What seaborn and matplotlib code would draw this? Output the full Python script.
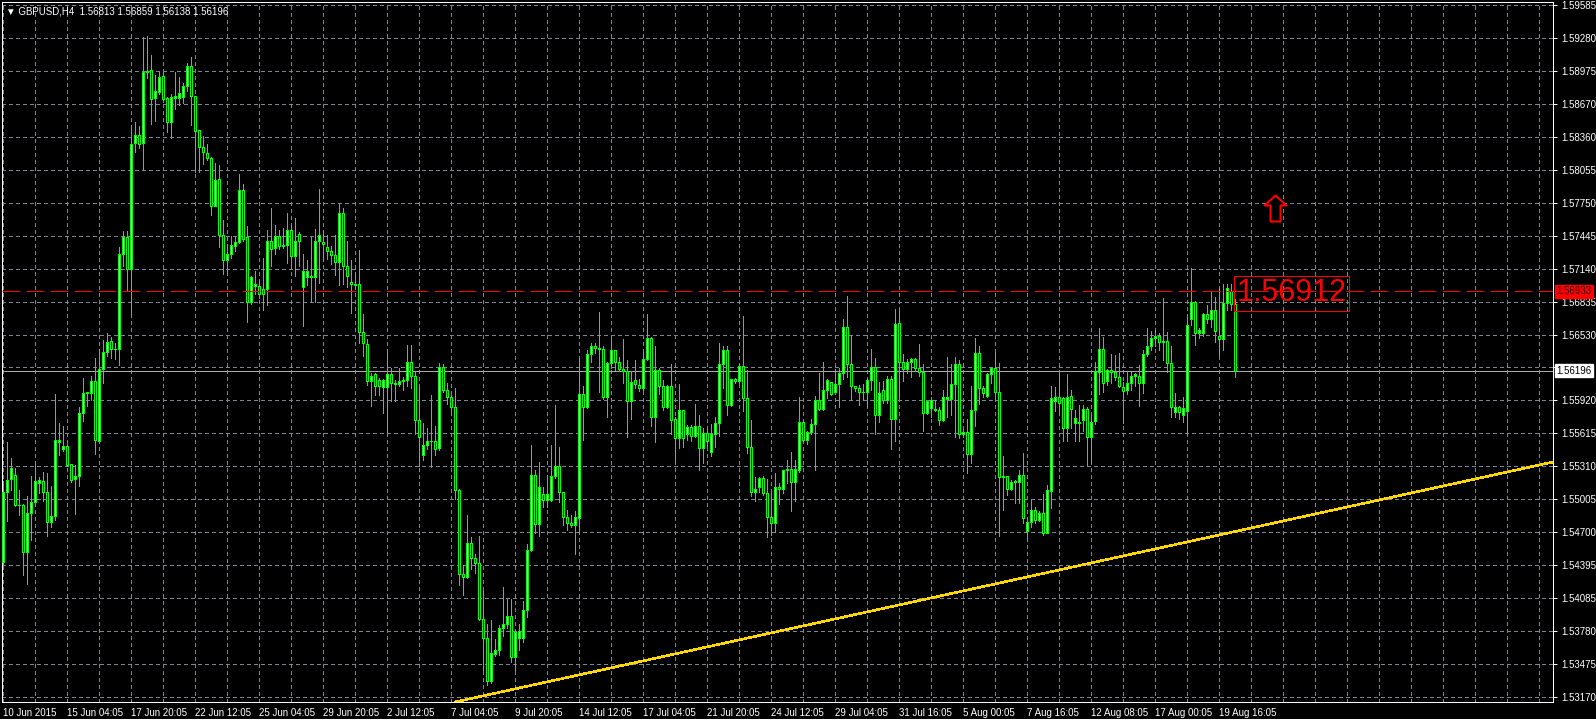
import numpy as np
import pandas as pd
import matplotlib
matplotlib.use("Agg")
import matplotlib.pyplot as plt
import seaborn as sns
from matplotlib.path import Path
from matplotlib.markers import MarkerStyle

# ---- GBPUSD H4 bars (10 Jun 2015 12:05 .. 20 Aug 2015 08:05) ----
opens = [
    1.5442, 1.5507, 1.5519, 1.5523, 1.5495, 1.5495, 1.5451, 1.5488, 1.5498, 1.5515,
    1.5517, 1.5507, 1.5479, 1.5485, 1.5553, 1.5547, 1.5550, 1.5533, 1.5519, 1.5522,
    1.5580, 1.5599, 1.5599, 1.5610, 1.5554, 1.5621, 1.5637, 1.5647, 1.5640, 1.5640,
    1.5728, 1.5743, 1.5714, 1.5831, 1.5838, 1.5831, 1.5896, 1.5898, 1.5872, 1.5878,
    1.5893, 1.5872, 1.5850, 1.5872, 1.5872, 1.5873, 1.5883, 1.5902, 1.5874, 1.5843,
    1.5827, 1.5821, 1.5817, 1.5772, 1.5797, 1.5745, 1.5722, 1.5728, 1.5735, 1.5739,
    1.5787, 1.5743, 1.5683, 1.5698, 1.5698, 1.5695, 1.5695, 1.5740, 1.5733, 1.5744,
    1.5735, 1.5736, 1.5750, 1.5726, 1.5746, 1.5697, 1.5706, 1.5706, 1.5706, 1.5740,
    1.5739, 1.5734, 1.5730, 1.5727, 1.5720, 1.5766, 1.5717, 1.5702, 1.5700, 1.5700,
    1.5655, 1.5644, 1.5610, 1.5616, 1.5611, 1.5604, 1.5604, 1.5616, 1.5608, 1.5607,
    1.5610, 1.5611, 1.5628, 1.5615, 1.5574, 1.5541, 1.5551, 1.5554, 1.5554, 1.5548,
    1.5623, 1.5602, 1.5595, 1.5586, 1.5509, 1.5431, 1.5428, 1.5460, 1.5446, 1.5441,
    1.5389, 1.5372, 1.5332, 1.5357, 1.5361, 1.5381, 1.5385, 1.5392, 1.5354, 1.5372,
    1.5372, 1.5398, 1.5453, 1.5523, 1.5477, 1.5505, 1.5500, 1.5500, 1.5522, 1.5531,
    1.5507, 1.5484, 1.5478, 1.5476, 1.5483, 1.5598, 1.5586, 1.5635, 1.5642, 1.5641,
    1.5640, 1.5595, 1.5627, 1.5639, 1.5628, 1.5621, 1.5619, 1.5591, 1.5611, 1.5606,
    1.5603, 1.5630, 1.5650, 1.5577, 1.5620, 1.5605, 1.5586, 1.5605, 1.5575, 1.5557,
    1.5583, 1.5561, 1.5567, 1.5559, 1.5568, 1.5548, 1.5562, 1.5544, 1.5561, 1.5571,
    1.5626, 1.5639, 1.5588, 1.5612, 1.5610, 1.5624, 1.5594, 1.5549, 1.5507, 1.5512,
    1.5520, 1.5506, 1.5484, 1.5478, 1.5512, 1.5510, 1.5527, 1.5528, 1.5516, 1.5527,
    1.5572, 1.5555, 1.5563, 1.5570, 1.5592, 1.5584, 1.5602, 1.5609, 1.5600, 1.5607,
    1.5617, 1.5660, 1.5626, 1.5605, 1.5603, 1.5600, 1.5600, 1.5611, 1.5623, 1.5578,
    1.5602, 1.5592, 1.5612, 1.5575, 1.5664, 1.5628, 1.5621, 1.5628, 1.5630, 1.5622,
    1.5618, 1.5580, 1.5585, 1.5584, 1.5583, 1.5574, 1.5593, 1.5593, 1.5607, 1.5626,
    1.5561, 1.5563, 1.5542, 1.5583, 1.5636, 1.5603, 1.5596, 1.5616, 1.5622, 1.5600,
    1.5521, 1.5522, 1.5510, 1.5516, 1.5516, 1.5523, 1.5471, 1.5479, 1.5490, 1.5481,
    1.5488, 1.5469, 1.5508, 1.5591, 1.5595, 1.5594, 1.5566, 1.5596, 1.5571, 1.5572,
    1.5574, 1.5584, 1.5558, 1.5573, 1.5618, 1.5640, 1.5610, 1.5620, 1.5618, 1.5614,
    1.5604, 1.5602, 1.5608, 1.5615, 1.5615, 1.5608, 1.5635, 1.5642, 1.5650, 1.5652,
    1.5646, 1.5647, 1.5627, 1.5581, 1.5586, 1.5578, 1.5582, 1.5667, 1.5683, 1.5654,
    1.5654, 1.5672, 1.5667, 1.5676, 1.5652, 1.5649, 1.5682, 1.5693, 1.56813,
]
highs = [
    1.5517, 1.5553, 1.5539, 1.5529, 1.5509, 1.5496, 1.5503, 1.5522, 1.5534, 1.5521,
    1.5526, 1.5525, 1.5513, 1.5598, 1.5571, 1.5568, 1.5552, 1.5533, 1.5532, 1.5586,
    1.5613, 1.5600, 1.5615, 1.5631, 1.5640, 1.5648, 1.5654, 1.5651, 1.5645, 1.5734,
    1.5749, 1.5749, 1.5847, 1.5850, 1.5846, 1.5929, 1.5930, 1.5912, 1.5894, 1.5896,
    1.5896, 1.5873, 1.5876, 1.5896, 1.5892, 1.5886, 1.5905, 1.5910, 1.5874, 1.5843,
    1.5837, 1.5830, 1.5818, 1.5812, 1.5810, 1.5759, 1.5737, 1.5744, 1.5744, 1.5802,
    1.5793, 1.5754, 1.5707, 1.5712, 1.5704, 1.5724, 1.5750, 1.5770, 1.5755, 1.5750,
    1.5752, 1.5766, 1.5755, 1.5761, 1.5748, 1.5728, 1.5722, 1.5743, 1.5751, 1.5788,
    1.5750, 1.5745, 1.5735, 1.5745, 1.5775, 1.5770, 1.5740, 1.5722, 1.5710, 1.5731,
    1.5672, 1.5649, 1.5617, 1.5617, 1.5613, 1.5612, 1.5639, 1.5622, 1.5611, 1.5622,
    1.5614, 1.5643, 1.5643, 1.5618, 1.5605, 1.5571, 1.5566, 1.5597, 1.5568, 1.5627,
    1.5626, 1.5608, 1.5597, 1.5603, 1.5510, 1.5439, 1.5486, 1.5465, 1.5450, 1.5466,
    1.5416, 1.5385, 1.5388, 1.5371, 1.5384, 1.5419, 1.5408, 1.5408, 1.5378, 1.5385,
    1.5406, 1.5459, 1.5551, 1.5527, 1.5535, 1.5512, 1.5523, 1.5551, 1.5588, 1.5549,
    1.5507, 1.5490, 1.5486, 1.5489, 1.5632, 1.5605, 1.5639, 1.5645, 1.5645, 1.5674,
    1.5642, 1.5628, 1.5649, 1.5639, 1.5632, 1.5649, 1.5629, 1.5619, 1.5629, 1.5612,
    1.5639, 1.5672, 1.5651, 1.5642, 1.5622, 1.5611, 1.5606, 1.5626, 1.5577, 1.5607,
    1.5583, 1.5569, 1.5569, 1.5589, 1.5578, 1.5566, 1.5566, 1.5570, 1.5577, 1.5645,
    1.5642, 1.5642, 1.5612, 1.5613, 1.5626, 1.5670, 1.5620, 1.5574, 1.5521, 1.5521,
    1.5522, 1.5519, 1.5506, 1.5525, 1.5515, 1.5527, 1.5537, 1.5544, 1.5537, 1.5595,
    1.5574, 1.5564, 1.5575, 1.5596, 1.5617, 1.5628, 1.5612, 1.5609, 1.5621, 1.5622,
    1.5667, 1.5689, 1.5653, 1.5605, 1.5606, 1.5607, 1.5612, 1.5640, 1.5631, 1.5609,
    1.5610, 1.5615, 1.5615, 1.5677, 1.5677, 1.5635, 1.5630, 1.5631, 1.5631, 1.5644,
    1.5626, 1.5591, 1.5595, 1.5592, 1.5586, 1.5602, 1.5632, 1.5626, 1.5632, 1.5629,
    1.5565, 1.5575, 1.5605, 1.5650, 1.5642, 1.5605, 1.5617, 1.5623, 1.5637, 1.5627,
    1.5540, 1.5522, 1.5518, 1.5518, 1.5527, 1.5543, 1.5483, 1.5500, 1.5493, 1.5489,
    1.5505, 1.5514, 1.5605, 1.5604, 1.5616, 1.5595, 1.5616, 1.5602, 1.5583, 1.5588,
    1.5588, 1.5586, 1.5578, 1.5628, 1.5659, 1.5651, 1.5621, 1.5635, 1.5634, 1.5636,
    1.5609, 1.5618, 1.5618, 1.5617, 1.5625, 1.5639, 1.5659, 1.5656, 1.5657, 1.5654,
    1.5687, 1.5655, 1.5642, 1.5599, 1.5587, 1.5595, 1.5671, 1.5715, 1.5684, 1.5659,
    1.5673, 1.5680, 1.5693, 1.5688, 1.5696, 1.5700, 1.5700, 1.5700, 1.56859,
]
lows = [
    1.5440, 1.5480, 1.5509, 1.5494, 1.5486, 1.5430, 1.5422, 1.5463, 1.5496, 1.5506,
    1.5499, 1.5466, 1.5475, 1.5481, 1.5541, 1.5545, 1.5531, 1.5516, 1.5487, 1.5513,
    1.5573, 1.5587, 1.5592, 1.5542, 1.5554, 1.5608, 1.5633, 1.5631, 1.5630, 1.5625,
    1.5717, 1.5693, 1.5671, 1.5822, 1.5826, 1.5806, 1.5891, 1.5848, 1.5851, 1.5876,
    1.5869, 1.5841, 1.5835, 1.5862, 1.5866, 1.5868, 1.5879, 1.5847, 1.5804, 1.5804,
    1.5811, 1.5815, 1.5764, 1.5772, 1.5734, 1.5709, 1.5708, 1.5724, 1.5730, 1.5738,
    1.5740, 1.5665, 1.5681, 1.5691, 1.5687, 1.5676, 1.5680, 1.5717, 1.5728, 1.5732,
    1.5733, 1.5719, 1.5715, 1.5707, 1.5717, 1.5661, 1.5699, 1.5683, 1.5683, 1.5701,
    1.5722, 1.5723, 1.5718, 1.5708, 1.5699, 1.5700, 1.5697, 1.5673, 1.5695, 1.5645,
    1.5633, 1.5606, 1.5587, 1.5597, 1.5597, 1.5580, 1.5560, 1.5591, 1.5591, 1.5605,
    1.5602, 1.5605, 1.5603, 1.5561, 1.5531, 1.5537, 1.5547, 1.5530, 1.5541, 1.5546,
    1.5600, 1.5589, 1.5580, 1.5501, 1.5421, 1.5412, 1.5427, 1.5436, 1.5432, 1.5388,
    1.5342, 1.5328, 1.5330, 1.5355, 1.5356, 1.5374, 1.5381, 1.5349, 1.5342, 1.5361,
    1.5368, 1.5391, 1.5452, 1.5469, 1.5466, 1.5493, 1.5493, 1.5499, 1.5520, 1.5498,
    1.5476, 1.5472, 1.5475, 1.5450, 1.5469, 1.5555, 1.5585, 1.5628, 1.5636, 1.5600,
    1.5593, 1.5577, 1.5622, 1.5620, 1.5619, 1.5608, 1.5558, 1.5575, 1.5603, 1.5601,
    1.5602, 1.5629, 1.5568, 1.5553, 1.5598, 1.5583, 1.5585, 1.5561, 1.5536, 1.5548,
    1.5549, 1.5555, 1.5554, 1.5558, 1.5527, 1.5534, 1.5549, 1.5540, 1.5549, 1.5559,
    1.5603, 1.5578, 1.5587, 1.5608, 1.5608, 1.5582, 1.5543, 1.5503, 1.5499, 1.5507,
    1.5504, 1.5465, 1.5467, 1.5470, 1.5496, 1.5506, 1.5515, 1.5489, 1.5499, 1.5526,
    1.5554, 1.5552, 1.5561, 1.5527, 1.5583, 1.5583, 1.5594, 1.5597, 1.5598, 1.5586,
    1.5612, 1.5614, 1.5592, 1.5601, 1.5588, 1.5592, 1.5586, 1.5602, 1.5561, 1.5572,
    1.5590, 1.5590, 1.5547, 1.5554, 1.5595, 1.5610, 1.5617, 1.5614, 1.5620, 1.5615,
    1.5564, 1.5579, 1.5577, 1.5582, 1.5569, 1.5573, 1.5577, 1.5578, 1.5558, 1.5557,
    1.5558, 1.5525, 1.5534, 1.5568, 1.5589, 1.5595, 1.5595, 1.5608, 1.5592, 1.5466,
    1.5490, 1.5504, 1.5509, 1.5497, 1.5497, 1.5478, 1.5463, 1.5475, 1.5478, 1.5480,
    1.5467, 1.5469, 1.5492, 1.5582, 1.5581, 1.5554, 1.5554, 1.5566, 1.5554, 1.5554,
    1.5564, 1.5532, 1.5534, 1.5570, 1.5598, 1.5600, 1.5606, 1.5608, 1.5611, 1.5604,
    1.5571, 1.5598, 1.5602, 1.5605, 1.5587, 1.5599, 1.5633, 1.5639, 1.5642, 1.5639,
    1.5629, 1.5618, 1.5577, 1.5577, 1.5575, 1.5572, 1.5561, 1.5662, 1.5643, 1.5650,
    1.5652, 1.5664, 1.5660, 1.5646, 1.5634, 1.5639, 1.5676, 1.5676, 1.56138,
]
closes = [
    1.5507, 1.5518, 1.5529, 1.5495, 1.5495, 1.5451, 1.5488, 1.5498, 1.5517, 1.5518,
    1.5507, 1.5479, 1.5485, 1.5555, 1.5555, 1.5550, 1.5532, 1.5518, 1.5522, 1.5580,
    1.5599, 1.5600, 1.5610, 1.5555, 1.5621, 1.5637, 1.5646, 1.5640, 1.5640, 1.5728,
    1.5743, 1.5714, 1.5830, 1.5838, 1.5830, 1.5896, 1.5897, 1.5871, 1.5879, 1.5892,
    1.5871, 1.5850, 1.5873, 1.5874, 1.5877, 1.5883, 1.5902, 1.5874, 1.5842, 1.5827,
    1.5822, 1.5817, 1.5772, 1.5796, 1.5745, 1.5722, 1.5728, 1.5736, 1.5739, 1.5787,
    1.5742, 1.5683, 1.5706, 1.5700, 1.5691, 1.5691, 1.5740, 1.5732, 1.5744, 1.5735,
    1.5736, 1.5750, 1.5726, 1.5740, 1.5740, 1.5712, 1.5712, 1.5707, 1.5740, 1.5745,
    1.5737, 1.5730, 1.5727, 1.5720, 1.5766, 1.5717, 1.5707, 1.5700, 1.5699, 1.5655,
    1.5645, 1.5610, 1.5615, 1.5605, 1.5605, 1.5611, 1.5616, 1.5608, 1.5607, 1.5610,
    1.5611, 1.5628, 1.5615, 1.5574, 1.5558, 1.5551, 1.5554, 1.5554, 1.5547, 1.5623,
    1.5602, 1.5595, 1.5586, 1.5509, 1.5431, 1.5428, 1.5460, 1.5446, 1.5441, 1.5389,
    1.5372, 1.5332, 1.5358, 1.5361, 1.5381, 1.5385, 1.5392, 1.5354, 1.5377, 1.5378,
    1.5398, 1.5453, 1.5523, 1.5477, 1.5512, 1.5500, 1.5505, 1.5522, 1.5531, 1.5507,
    1.5484, 1.5478, 1.5476, 1.5484, 1.5598, 1.5586, 1.5635, 1.5642, 1.5641, 1.5640,
    1.5595, 1.5627, 1.5639, 1.5628, 1.5621, 1.5619, 1.5591, 1.5609, 1.5607, 1.5603,
    1.5630, 1.5650, 1.5577, 1.5620, 1.5605, 1.5586, 1.5605, 1.5574, 1.5557, 1.5583,
    1.5557, 1.5567, 1.5559, 1.5568, 1.5548, 1.5562, 1.5554, 1.5561, 1.5571, 1.5626,
    1.5639, 1.5588, 1.5612, 1.5610, 1.5624, 1.5594, 1.5549, 1.5507, 1.5510, 1.5520,
    1.5506, 1.5484, 1.5478, 1.5512, 1.5510, 1.5527, 1.5528, 1.5516, 1.5528, 1.5572,
    1.5555, 1.5563, 1.5570, 1.5592, 1.5584, 1.5602, 1.5611, 1.5598, 1.5607, 1.5617,
    1.5660, 1.5626, 1.5605, 1.5603, 1.5600, 1.5600, 1.5611, 1.5623, 1.5578, 1.5599,
    1.5592, 1.5612, 1.5575, 1.5663, 1.5628, 1.5621, 1.5628, 1.5630, 1.5622, 1.5618,
    1.5580, 1.5591, 1.5592, 1.5583, 1.5574, 1.5595, 1.5595, 1.5607, 1.5626, 1.5561,
    1.5563, 1.5542, 1.5583, 1.5636, 1.5603, 1.5599, 1.5616, 1.5622, 1.5600, 1.5521,
    1.5522, 1.5510, 1.5516, 1.5517, 1.5523, 1.5483, 1.5479, 1.5490, 1.5481, 1.5488,
    1.5469, 1.5509, 1.5594, 1.5595, 1.5590, 1.5566, 1.5595, 1.5584, 1.5576, 1.5571,
    1.5584, 1.5558, 1.5572, 1.5619, 1.5640, 1.5608, 1.5620, 1.5618, 1.5614, 1.5605,
    1.5601, 1.5608, 1.5615, 1.5616, 1.5608, 1.5635, 1.5642, 1.5650, 1.5652, 1.5646,
    1.5647, 1.5627, 1.5586, 1.5586, 1.5581, 1.5585, 1.5662, 1.5683, 1.5654, 1.5657,
    1.5672, 1.5667, 1.5676, 1.5656, 1.5649, 1.5682, 1.5696, 1.5681, 1.56196,
]

time_labels = [
    "10 Jun 2015", "15 Jun 04:05", "17 Jun 20:05", "22 Jun 12:05", "25 Jun 04:05",
    "29 Jun 20:05", "2 Jul 12:05", "7 Jul 04:05", "9 Jul 20:05", "14 Jul 12:05",
    "17 Jul 04:05", "21 Jul 20:05", "24 Jul 12:05", "29 Jul 04:05", "31 Jul 16:05",
    "5 Aug 00:05", "7 Aug 16:05", "12 Aug 08:05", "17 Aug 00:05", "19 Aug 16:05",
]
price_ticks = [
    1.59585, 1.59280, 1.58975, 1.58670, 1.58360, 1.58055, 1.57750, 1.57445,
    1.57140, 1.56835, 1.56530, 1.56225, 1.55920, 1.55615, 1.55310, 1.55005,
    1.54700, 1.54395, 1.54085, 1.53780, 1.53475, 1.53170,
]
symbol_line = "\u25bc GBPUSD,H4  1.56813 1.56859 1.56138 1.56196"
level_price = 1.56933        # red dashed horizontal level
bid_price = 1.56196          # current bid line
note_text = "1.56912"
note_bar, note_price = 308.4, 1.56912
arrow_bar, arrow_price = 318, 1.5770
trend_bars = [110, 300]
trend_prices = [1.5310, 1.5464]

# ---- look ----
W, H, DPI = 1596, 719, 100
PX = 72.0 / DPI              # one device pixel in points
GREEN = "#00FF00"
GRID = "#778899"
FONT = ["Liberation Sans", "DejaVu Sans"]
LABEL_SIZE = 7.0

sns.set_theme(style="dark", rc={
    "figure.facecolor": "black", "axes.facecolor": "black",
    "axes.edgecolor": "white", "text.color": "white",
    "xtick.color": "white", "ytick.color": "white",
})
plt.rcParams["font.family"] = FONT

df = pd.DataFrame({"open": opens, "high": highs, "low": lows, "close": closes})
df["bar"] = np.arange(len(df))
df["bull"] = df["close"] >= df["open"]
df["body_lo"] = df[["open", "close"]].min(axis=1)
df["body_h"] = (df["close"] - df["open"]).abs()

fig = plt.figure(figsize=(W / DPI, H / DPI), dpi=DPI)
ax = fig.add_axes([1.5 / W, 17 / H, 1551.5 / W, 700 / H])
ax.set_xlim(-0.45, 387.43)
ax.set_ylim(1.531238, 1.596128)

# dashed grid
for p in price_ticks:
    ax.axhline(p, color=GRID, lw=PX, ls=(0, (3, 3)), zorder=1, antialiased=False)
for b in range(0, 388, 8):
    ax.axvline(b, color=GRID, lw=PX, ls=(0, (3, 3)), zorder=1, antialiased=False)

# candles
ax.vlines(df["bar"], df["low"], df["high"], colors=GREEN, lw=PX, zorder=3,
          antialiased=False)
ax.bar(df["bar"], df["body_h"], bottom=df["body_lo"], width=0.5,
       color=np.where(df["bull"], "white", "black"), edgecolor=GREEN,
       linewidth=PX, zorder=4, antialiased=False)

# levels
ax.axhline(level_price, color="red", lw=PX, ls=(0, (18, 6)), zorder=5)
ax.axhline(bid_price, color="#A9A9A9", lw=PX, zorder=2)
ax.axline((trend_bars[0], trend_prices[0]), (trend_bars[1], trend_prices[1]),
          color="#FFD700", lw=1.6 * PX, zorder=5, antialiased=False)

# up arrow object
arrow_path = Path([(0, 1), (0.846, 0.23), (0.385, 0.23), (0.385, -1),
                   (-0.385, -1), (-0.385, 0.23), (-0.846, 0.23), (0, 1)],
                  [Path.MOVETO] + [Path.LINETO] * 6 + [Path.CLOSEPOLY])
sns.scatterplot(x=[arrow_bar], y=[arrow_price], ax=ax, marker=MarkerStyle(arrow_path),
                s=(26 * PX) ** 2, facecolor="black", edgecolor="red",
                linewidth=2 * PX, zorder=6, legend=False)

# text object with frame
ax.text(note_bar, note_price, note_text, color="red", fontsize=22,
        family=FONT, ha="left", va="center", zorder=6,
        bbox=dict(boxstyle="square,pad=0.08", fc="none", ec="red", lw=PX))

# axes frame and ticks
for s in ax.spines.values():
    s.set_color("white")
    s.set_linewidth(PX)
ax.yaxis.tick_right()
ax.set_yticks(price_ticks)
# the scale label nearest the bid is covered by the bid tag
ax.set_yticklabels(["" if abs(p - bid_price) < 0.0005 else f"{p:.5f}"
                    for p in price_ticks])
ax.set_xticks(np.arange(len(time_labels)) * 16)
ax.set_xticklabels(time_labels, ha="left")
ax.tick_params(axis="both", length=4 * PX, width=PX, colors="white",
               labelsize=LABEL_SIZE, pad=1.5)
ax.tick_params(axis="y", pad=3)
ax.set_xlabel("")
ax.set_ylabel("")

# price tags on the scale
ax.annotate(f"{level_price:.5f}", xy=(1, level_price), xycoords=("axes fraction", "data"),
            xytext=(3, 0), textcoords="offset pixels", ha="left", va="center",
            fontsize=LABEL_SIZE, color="#2a0000", zorder=10, annotation_clip=False,
            bbox=dict(boxstyle="square,pad=0.15", fc="red", ec="red"))
ax.annotate(f"{bid_price:.5f}", xy=(1, bid_price), xycoords=("axes fraction", "data"),
            xytext=(3, 0), textcoords="offset pixels", ha="left", va="center",
            fontsize=LABEL_SIZE, color="black", zorder=10, annotation_clip=False,
            bbox=dict(boxstyle="square,pad=0.15", fc="white", ec="white"))

fig.text(6 / W, 1 - 11 / H, symbol_line, color="white", fontsize=LABEL_SIZE,
         family=FONT, ha="left", va="center")

fig.savefig("out.png", dpi=DPI, facecolor="black")
